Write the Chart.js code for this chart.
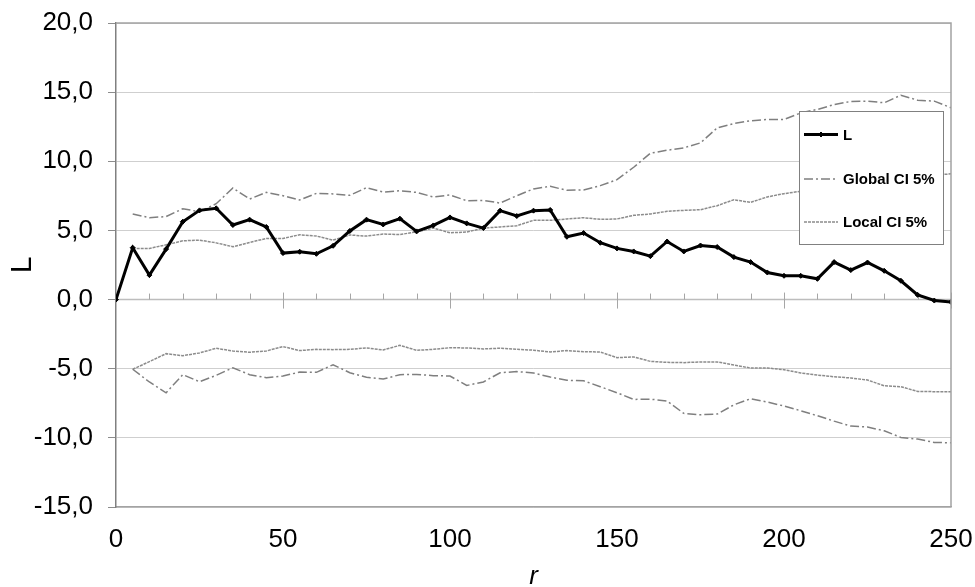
<!DOCTYPE html>
<html>
<head>
<meta charset="utf-8">
<script src="https://cdn.jsdelivr.net/npm/chart.js@4.4.1/dist/chart.umd.min.js"></script>
<style>
  html, body { margin: 0; padding: 0; background: #fff; }
  canvas { display: block; }
</style>
</head>
<body>
<canvas id="chart" width="975" height="587"></canvas>
<script>
// Distance r
const rValues = [
  0, 5, 10, 15, 20, 25, 30, 35, 40, 45,
  50, 55, 60, 65, 70, 75, 80, 85, 90, 95,
  100, 105, 110, 115, 120, 125, 130, 135, 140, 145,
  150, 155, 160, 165, 170, 175, 180, 185, 190, 195,
  200, 205, 210, 215, 220, 225, 230, 235, 240, 245,
  250
];

// Observed L(r)
const lValues = [
  0, 3.75, 1.77, 3.65, 5.63, 6.45, 6.6, 5.39, 5.78, 5.25,
  3.36, 3.46, 3.31, 3.89, 4.96, 5.78, 5.43, 5.85, 4.93, 5.36,
  5.94, 5.51, 5.17, 6.43, 6.04, 6.43, 6.48, 4.54, 4.81, 4.11,
  3.7, 3.48, 3.14, 4.2, 3.48, 3.91, 3.8, 3.07, 2.71, 1.96,
  1.72, 1.72, 1.5, 2.71, 2.13, 2.68, 2.08, 1.36, 0.34, -0.07,
  -0.17
];

// Global confidence envelope, 5%
const globalUpper = [
  null, 6.19, 5.92, 6.0, 6.57, 6.35, 6.93, 8.07, 7.27, 7.75,
  7.51, 7.2, 7.68, 7.64, 7.54, 8.09, 7.77, 7.87, 7.75, 7.42,
  7.56, 7.15, 7.17, 6.98, 7.51, 8.0, 8.19, 7.9, 7.93, 8.24,
  8.67, 9.57, 10.58, 10.8, 10.97, 11.33, 12.42, 12.73, 12.93, 13.02,
  13.02, 13.5, 13.75, 14.1, 14.33, 14.35, 14.23, 14.78, 14.42, 14.35,
  13.87
];
const globalLower = [
  null, -5.04, -5.96, -6.74, -5.43, -5.94, -5.48, -4.93, -5.43, -5.65,
  -5.53, -5.24, -5.26, -4.71, -5.29, -5.62, -5.75, -5.43, -5.41, -5.5,
  -5.53, -6.21, -5.96, -5.29, -5.21, -5.31, -5.6, -5.84, -5.87, -6.3,
  -6.74, -7.22, -7.2, -7.34, -8.23, -8.33, -8.28, -7.61, -7.17, -7.41,
  -7.7, -8.04, -8.4, -8.79, -9.15, -9.22, -9.49, -9.97, -10.09, -10.33,
  -10.36
];

// Local confidence envelope, 5%
const localUpper = [
  null, 3.7, 3.7, 3.96, 4.25, 4.3, 4.1, 3.82, 4.13, 4.42,
  4.42, 4.69, 4.59, 4.3, 4.67, 4.59, 4.74, 4.7, 4.9, 5.17,
  4.83, 4.88, 5.17, 5.25, 5.34, 5.73, 5.73, 5.83, 5.92, 5.8,
  5.83, 6.09, 6.19, 6.38, 6.45, 6.5, 6.79, 7.22, 7.03, 7.42,
  7.66, 7.83, 8.0, 8.2, 8.4, 8.5, 8.7, 8.85, 8.95, 9.0,
  9.09
];
const localLower = [
  null, -5.04, -4.49, -3.91, -4.06, -3.86, -3.52, -3.72, -3.81, -3.72,
  -3.4, -3.69, -3.6, -3.62, -3.6, -3.5, -3.64, -3.31, -3.67, -3.6,
  -3.48, -3.5, -3.57, -3.52, -3.6, -3.66, -3.79, -3.69, -3.77, -3.79,
  -4.2, -4.15, -4.47, -4.54, -4.56, -4.51, -4.51, -4.73, -4.95, -4.95,
  -5.07, -5.31, -5.46, -5.58, -5.67, -5.82, -6.23, -6.3, -6.64, -6.66,
  -6.66
];

const legendLabels = ['L', 'Global CI 5%', 'Local CI 5%'];

const FONT = '"Liberation Sans", Arial, Helvetica, sans-serif';
Chart.defaults.font.family = FONT;
Chart.defaults.color = '#000';

const toPoints = (vals) => rValues.map((r, i) => ({ x: r, y: vals[i] }));

const lStyle = {
  borderColor: '#000', backgroundColor: '#000', borderWidth: 3,
  pointRadius: 2.5, pointStyle: 'rectRot', pointBackgroundColor: '#000',
  pointBorderColor: '#000', pointBorderWidth: 1
};
const globalStyle = {
  borderColor: '#7f7f7f', borderWidth: 1.5, borderDash: [9, 3, 2, 3], pointRadius: 0
};
const localStyle = {
  borderColor: '#8c8c8c', borderWidth: 1.5, borderDash: [3, 1], pointRadius: 0
};

// Horizontal axis drawn through y = 0 with minor and major tick marks
const zeroAxis = {
  id: 'zeroAxis',
  beforeDatasetsDraw(chart) {
    const { ctx, chartArea, scales: { x, y } } = chart;
    const y0 = y.getPixelForValue(0);
    ctx.save();
    ctx.strokeStyle = '#bdbdbd';
    ctx.lineWidth = 1.5;
    ctx.beginPath();
    ctx.moveTo(chartArea.left, y0);
    ctx.lineTo(chartArea.right, y0);
    ctx.stroke();
    ctx.strokeStyle = '#a6a6a6';
    ctx.lineWidth = 1;
    for (let v = x.min + 10; v <= x.max; v += 10) {
      const px = Math.round(x.getPixelForValue(v)) + 0.5;
      ctx.beginPath();
      if (v % 50 === 0) {
        ctx.moveTo(px, y0 - 7);
        ctx.lineTo(px, y0 + 9);
      } else {
        ctx.moveTo(px, y0 - 6);
        ctx.lineTo(px, y0);
      }
      ctx.stroke();
    }
    ctx.restore();
  }
};

// Top and right edges of the plot frame
const plotFrame = {
  id: 'plotFrame',
  afterDraw(chart) {
    const { ctx, chartArea } = chart;
    ctx.save();
    ctx.strokeStyle = '#a3a3a3';
    ctx.lineWidth = 1.5;
    ctx.beginPath();
    ctx.moveTo(chartArea.left, chartArea.top);
    ctx.lineTo(chartArea.right, chartArea.top);
    ctx.lineTo(chartArea.right, chartArea.bottom);
    ctx.stroke();
    ctx.restore();
  }
};

// Boxed legend inside the plot, upper right
const boxLegend = {
  id: 'boxLegend',
  afterDatasetsDraw(chart) {
    const { ctx, chartArea } = chart;
    const bx = chartArea.right - 151.5;
    const by = chartArea.top + 88.5;
    const bw = 144, bh = 133;
    ctx.save();
    ctx.fillStyle = '#fff';
    ctx.fillRect(bx, by, bw, bh);
    ctx.strokeStyle = '#808080';
    ctx.lineWidth = 1;
    ctx.strokeRect(bx, by, bw, bh);

    const ds = chart.data.datasets;
    const styles = [ds[0], ds[1], ds[3]];
    const rows = [23, 67.5, 110.5];
    ctx.font = 'bold 15px ' + FONT;
    ctx.textBaseline = 'middle';
    ctx.textAlign = 'left';
    styles.forEach((s, i) => {
      const yy = by + rows[i];
      const x1 = bx + 4.5, x2 = bx + 38.5;
      ctx.save();
      ctx.strokeStyle = s.borderColor;
      ctx.lineWidth = s.borderWidth;
      ctx.setLineDash(s.borderDash || []);
      ctx.beginPath();
      ctx.moveTo(x1, yy);
      ctx.lineTo(x2, yy);
      ctx.stroke();
      ctx.restore();
      if (s.pointRadius > 0) {
        ctx.save();
        ctx.fillStyle = s.pointBackgroundColor;
        ctx.strokeStyle = s.pointBorderColor;
        ctx.lineWidth = 1;
        Chart.helpers.drawPoint(ctx, { pointStyle: s.pointStyle, radius: s.pointRadius, borderWidth: 1 }, (x1 + x2) / 2, yy);
        ctx.restore();
      }
      ctx.fillStyle = '#000';
      ctx.fillText(legendLabels[i], bx + 43.5, yy + 1);
    });
    ctx.restore();
  }
};

new Chart(document.getElementById('chart'), {
  type: 'line',
  data: {
    datasets: [
      { label: legendLabels[0], data: toPoints(lValues), ...lStyle },
      { label: legendLabels[1], data: toPoints(globalUpper), ...globalStyle },
      { label: legendLabels[1], data: toPoints(globalLower), ...globalStyle },
      { label: legendLabels[2], data: toPoints(localUpper), ...localStyle },
      { label: legendLabels[2], data: toPoints(localLower), ...localStyle }
    ]
  },
  options: {
    responsive: false,
    animation: false,
    devicePixelRatio: 1,
    spanGaps: false,
    elements: { line: { tension: 0 } },
    layout: { padding: { top: 23, right: 24, left: 0, bottom: 0 } },
    plugins: {
      legend: { display: false },
      tooltip: { enabled: false }
    },
    scales: {
      x: {
        type: 'linear',
        min: 0,
        max: 250,
        position: 'bottom',
        ticks: { stepSize: 50, font: { size: 26 }, color: '#000', padding: 17, maxRotation: 0 },
        grid: { display: false, drawTicks: false },
        border: { display: true, color: '#a3a3a3', width: 1.5 },
        title: { display: true, text: 'r', color: '#000', font: { size: 26, style: 'italic', lineHeight: 0.8 }, padding: 0 },
        afterFit(scale) {
          scale.height = 80;
          scale.paddingLeft = 0;
          scale.paddingRight = 0;
        }
      },
      y: {
        min: -15,
        max: 20,
        ticks: {
          stepSize: 5,
          font: { size: 26 },
          color: '#000',
          padding: 15,
          callback: (v) => v.toFixed(1).replace('.', ',')
        },
        grid: { color: '#cfcfcf', lineWidth: 1, tickLength: 8, tickColor: '#8c8c8c', drawTicks: true },
        border: { display: true, color: '#808080', width: 1.5 },
        title: { display: true, text: 'L', color: '#000', font: { size: 30 }, padding: { top: 5, bottom: 0 } },
        afterFit(scale) {
          scale.width = 116;
          scale.paddingTop = 0;
          scale.paddingBottom = 0;
        }
      }
    }
  },
  plugins: [zeroAxis, boxLegend, plotFrame]
});
</script>
</body>
</html>
